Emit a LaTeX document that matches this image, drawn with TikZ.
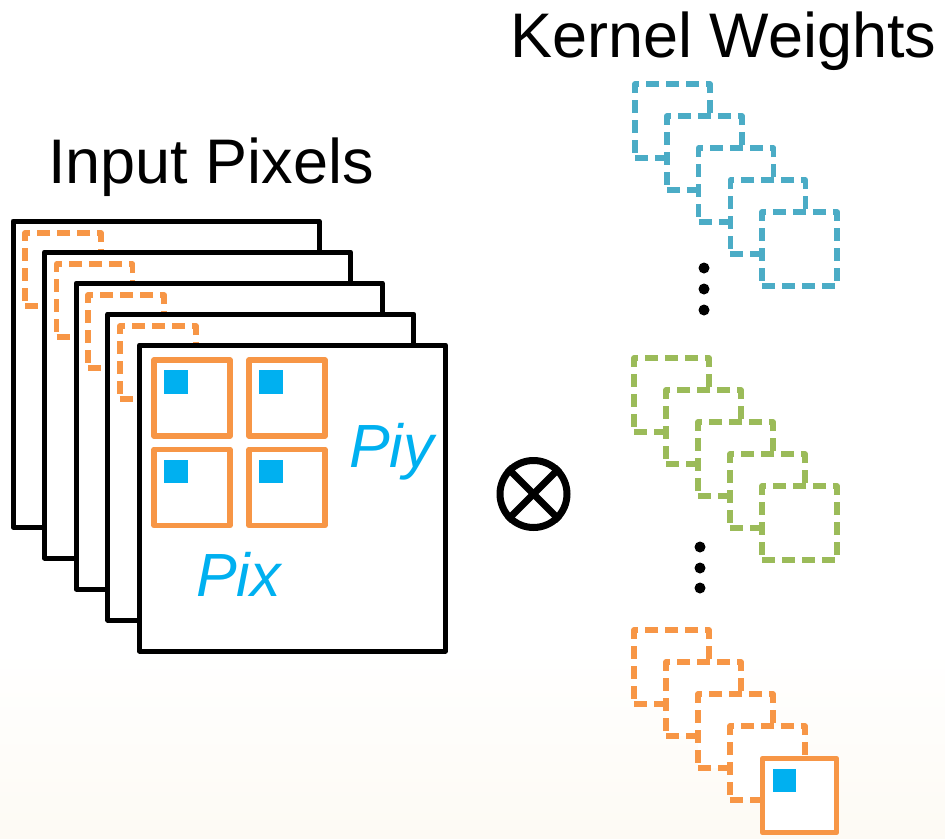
\documentclass[tikz,border=0pt]{standalone}
\usepackage{fontspec}
\setmainfont{Liberation Sans}
\definecolor{kOrange}{HTML}{F79646}
\definecolor{kAqua}{HTML}{4BACC6}
\definecolor{kGreen}{HTML}{9BBB59}
\definecolor{kBlue}{HTML}{00B0F0}
\definecolor{kCream}{HTML}{FDFAF4}
\tikzset{
  frame/.style={draw=black, fill=white, line width=5pt, line join=round,
    minimum width=306pt, minimum height=306pt, inner sep=0pt, outer sep=0pt, anchor=north west},
  dbox/.style={draw=#1, fill=white, line width=5.5pt, line join=round,
    dash pattern=on 13pt off 7pt, minimum width=75pt, minimum height=74pt,
    inner sep=0pt, outer sep=0pt, anchor=north west},
  sbox/.style={draw=kOrange, fill=white, line width=5.5pt, line join=round,
    minimum width=76pt, minimum height=76pt, inner sep=0pt, outer sep=0pt, anchor=north west},
  pix/.style={fill=kBlue, minimum size=23.5pt, inner sep=0pt, outer sep=0pt, anchor=north west},
  dot/.style={circle, fill=black, minimum size=11pt, inner sep=0pt},
  title/.style={anchor=base west, inner sep=0pt, font=\fontsize{63}{63}\selectfont},
  axis/.style={anchor=base west, inner sep=0pt, text=kBlue, font=\fontsize{61}{61}\selectfont\itshape},
}
\begin{document}
\begin{tikzpicture}[x=1pt, y=-1pt]
  \useasboundingbox (0,0) rectangle (945,838);
  % faint warm tint towards the bottom edge
  \shade[top color=white, bottom color=kCream] (0,650) rectangle (945,838);

  % titles
  \node[title] (tin) at (48,183) {Input Pixels};
  \node[title] (tker) at (510,57) {Kernel Weights};

  % stack of input channels, each with its dashed window
  \foreach \k in {0,...,3} {
    \node[frame] (f\k) at (13+31.6*\k, 221+31*\k) {};
    \node[dbox=kOrange, minimum width=76pt, minimum height=73pt] (w\k) at (25+31.6*\k, 233+31*\k) {};
  }
  \node[frame] (f4) at (139.4, 345) {};

  % 2x2 windows on the front channel
  \foreach \i/\x/\y in {1/154/360, 2/249/360, 3/154/449.5, 4/249/449.5} {
    \node[sbox] (s\i) at (\x,\y) {};
    \node[pix] (p\i) at (\x+10,\y+10) {};
  }
  \node[axis] (piy) at (349,467) {Piy};
  \node[axis] (pix) at (196,596) {Pix};

  % convolution operator
  \node[circle, draw=black, line width=7pt, minimum size=67pt, inner sep=0pt] (op) at (533.5,494) {};
  \draw[line width=7pt] (op.north west) -- (op.south east);
  \draw[line width=7pt] (op.north east) -- (op.south west);

  % kernel weight stacks
  \foreach \k in {0,...,4} {
    \node[dbox=kAqua] (a\k) at (635+31.8*\k, 84+32*\k) {};
  }
  \foreach \k in {0,...,4} {
    \node[dbox=kGreen] (g\k) at (634+32*\k, 358+32*\k) {};
  }
  \foreach \k in {0,...,3} {
    \node[dbox=kOrange] (o\k) at (634+32*\k, 630+32*\k) {};
  }
  \node[sbox, minimum width=74pt, minimum height=74pt] (o4) at (762.5,758.5) {};
  \node[pix] (ko) at (772.5,768.5) {};

  % vertical ellipses between the stacks
  \node[dot] (d1) at (704,268) {};
  \node[dot] (d2) at (704,289) {};
  \node[dot] (d3) at (704,310) {};
  \node[dot] (e1) at (700,547) {};
  \node[dot] (e2) at (700,568) {};
  \node[dot] (e3) at (700,588) {};
\end{tikzpicture}
\end{document}
